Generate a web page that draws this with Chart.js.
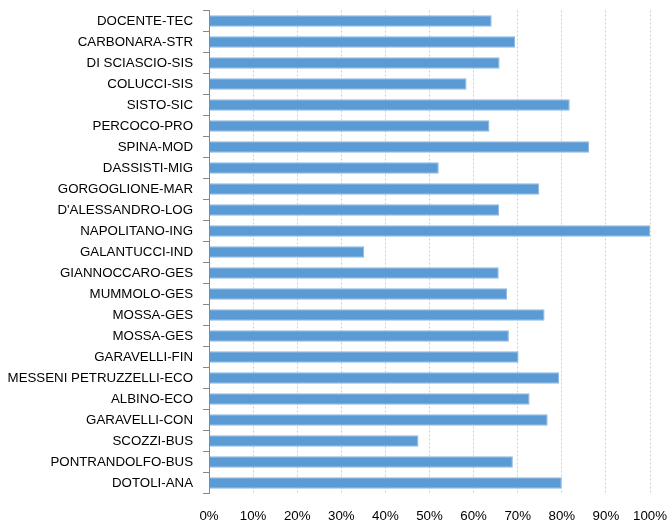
<!DOCTYPE html>
<html lang="it">
<head>
    <meta charset="UTF-8">
    <title>Chart</title>
    <script src="https://cdn.jsdelivr.net/npm/chart.js"></script>
    <style>
        body {
            margin: 0;
            padding: 0;
            background-color: #ffffff;
        }
        .chart-container {
            width: 669px;
            height: 521px;
        }
    </style>
</head>
<body>
    <div class="chart-container">
        <canvas id="barChart"></canvas>
    </div>

    <script>
        // dati
        const categories = [
            'DOCENTE-TEC', 'CARBONARA-STR', 'DI SCIASCIO-SIS', 'COLUCCI-SIS', 'SISTO-SIC',
            'PERCOCO-PRO', 'SPINA-MOD', 'DASSISTI-MIG', 'GORGOGLIONE-MAR', "D'ALESSANDRO-LOG",
            'NAPOLITANO-ING', 'GALANTUCCI-IND', 'GIANNOCCARO-GES', 'MUMMOLO-GES', 'MOSSA-GES',
            'MOSSA-GES', 'GARAVELLI-FIN', 'MESSENI PETRUZZELLI-ECO', 'ALBINO-ECO', 'GARAVELLI-CON',
            'SCOZZI-BUS', 'PONTRANDOLFO-BUS', 'DOTOLI-ANA'
        ];
        const values = [
            0.641, 0.694, 0.659, 0.584, 0.818,
            0.636, 0.862, 0.521, 0.749, 0.658,
            1.0, 0.352, 0.657, 0.676, 0.761,
            0.680, 0.702, 0.794, 0.727, 0.768,
            0.475, 0.689, 0.800
        ];
        const xTicks = [0, 0.1, 0.2, 0.3, 0.4, 0.5, 0.6, 0.7, 0.8, 0.9, 1.0];

        const fontFamily = "'Liberation Sans Narrow', 'Liberation Sans', Arial, sans-serif";

        const ctx = document.getElementById('barChart').getContext('2d');

        const barChart = new Chart(ctx, {
            type: 'bar',
            data: {
                labels: categories,
                datasets: [{
                    data: values,
                    backgroundColor: '#5b9bd5',
                    borderColor: '#8fb8e0',
                    borderWidth: 1,
                    barPercentage: 0.55,
                    categoryPercentage: 1.0
                }]
            },
            options: {
                indexAxis: 'y',
                responsive: true,
                maintainAspectRatio: false,
                animation: false,
                layout: {
                    padding: { top: 10.5, right: 19, left: 0, bottom: 0 }
                },
                plugins: {
                    legend: { display: false },
                    tooltip: { enabled: false }
                },
                scales: {
                    x: {
                        min: 0,
                        max: 1,
                        afterBuildTicks: function(scale) {
                            scale.ticks = xTicks.map(v => ({ value: v }));
                        },
                        afterFit: function(scale) {
                            scale.height = 27.5;
                            scale.paddingLeft = 0;
                            scale.paddingRight = 0;
                        },
                        border: { display: false, dash: [2, 2] },
                        grid: {
                            color: '#d0d0d0',
                            drawTicks: false
                        },
                        ticks: {
                            padding: 15,
                            color: '#000000',
                            font: { family: fontFamily, size: 13.3 },
                            callback: function(value) {
                                return Math.round(value * 100) + '%';
                            }
                        }
                    },
                    y: {
                        afterFit: function(scale) {
                            scale.width = 209;
                            scale.paddingTop = 0;
                            scale.paddingBottom = 0;
                        },
                        border: { display: true, color: '#868686', width: 1 },
                        grid: {
                            offset: true,
                            drawOnChartArea: false,
                            color: '#868686',
                            tickLength: 6
                        },
                        ticks: {
                            padding: 10,
                            color: '#000000',
                            autoSkip: false,
                            font: { family: fontFamily, size: 13.3 }
                        }
                    }
                }
            }
        });
    </script>
</body>
</html>
